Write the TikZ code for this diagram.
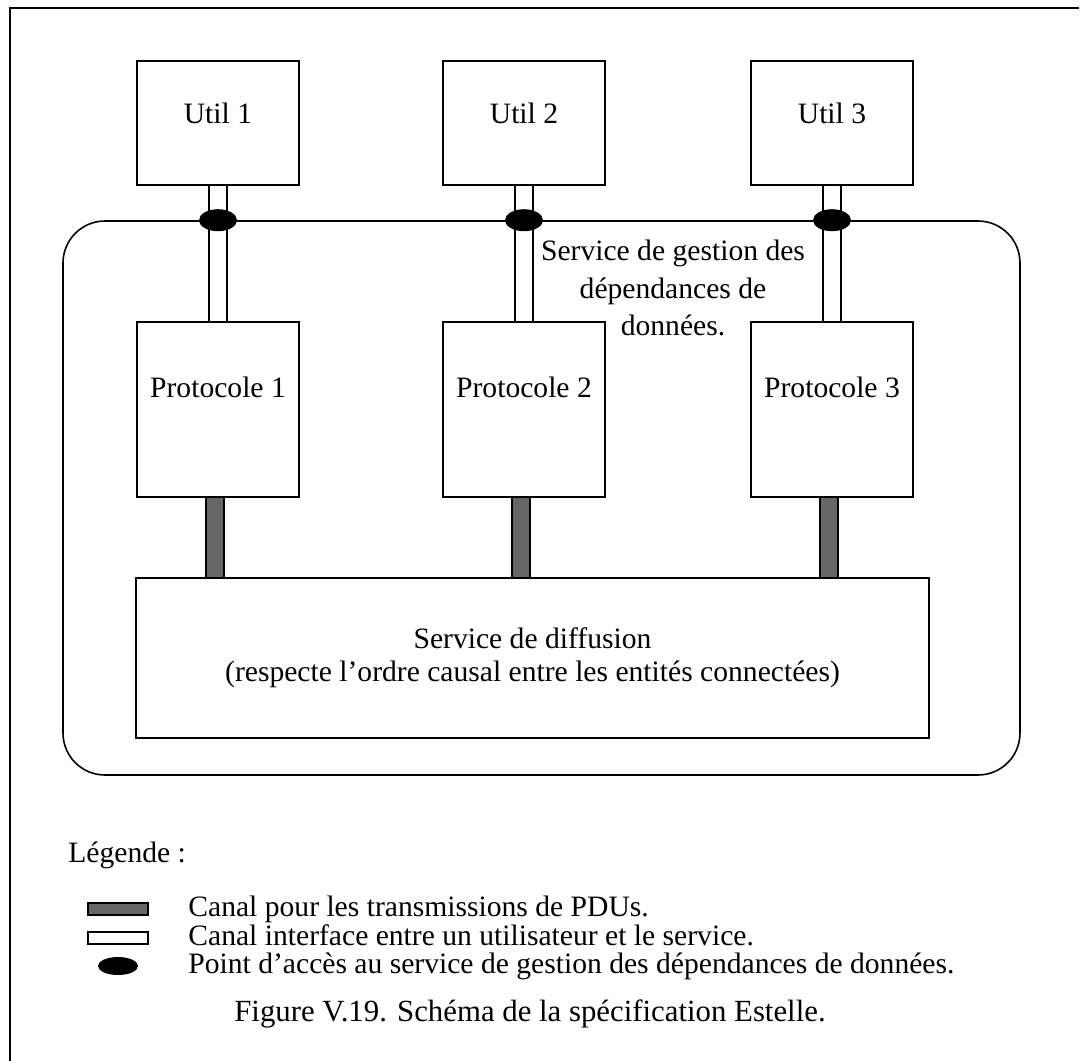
\documentclass[tikz,border=0pt]{standalone}
\usepackage{fontspec}
\setmainfont{Liberation Serif}
\usetikzlibrary{positioning,shapes.geometric}

\begin{document}
\begin{tikzpicture}[
        x=0.5pt, y=-0.5pt,
        font=\fontsize{14.8}{17}\selectfont,
        box/.style={rectangle, draw=black, line width=0.8pt, minimum width=81pt, align=center, inner sep=0pt},
        ubox/.style={box, minimum height=62pt, text height=10pt, text depth=10pt},
        pbox/.style={box, minimum height=87.5pt, text height=10pt, text depth=22pt},
        iface/.style={line width=1.2pt, double=white, double distance=7.6pt},
        pdu/.style={line width=0.8pt, double=black!60, double distance=8.4pt},
        sap/.style={ellipse, fill=black, minimum width=19pt, minimum height=11pt, inner sep=0pt},
        key/.style={rectangle, draw=black, minimum width=30pt, minimum height=6pt, inner sep=0pt},
        keytxt/.style={anchor=west, inner sep=0pt, text height=10pt, text depth=3pt},
    ]
    \useasboundingbox (0,0) rectangle (1083,1061);
    \draw[line width=0.8pt] (1079,8) -- (10,8) -- (10,1061);

    % service de gestion des dependances
    \node[draw, line width=0.8pt, rounded corners=21pt, minimum width=478.5pt, minimum height=277pt] (svc) at (541.5,498) {};
    \node[align=center, font=\fontsize{14.8}{18.75}\selectfont] (svclbl) at (673,288) {Service de gestion des\\dépendances de\\données.};

    \node[ubox] (u1) at (218,123) {Util 1};
    \node[ubox] (u2) at (524,123) {Util 2};
    \node[ubox] (u3) at (832,123) {Util 3};
    \node[pbox] (p1) at (218,409.5) {Protocole 1};
    \node[pbox] (p2) at (524,409.5) {Protocole 2};
    \node[pbox] (p3) at (832,409.5) {Protocole 3};
    \node[box, minimum width=396.5pt, minimum height=80pt, font=\fontsize{14.8}{16.5}\selectfont] (diff) at (532.5,658)
        {Service de diffusion\\(respecte l’ordre causal entre les entités connectées)};

    \foreach \i in {1,2,3} {
        \draw[iface] (u\i) -- (p\i);
        \draw[pdu] ([xshift=-1.5pt]p\i.south) -- ([xshift=-1.5pt]p\i.south |- diff.north);
        \node[sap] (ap\i) at (u\i |- svc.north) {};
    }

    % legende
    \node[keytxt] (leg) at (68,855) {Légende :};
    \node[key, line width=0.6pt, fill=black!60] (k1) at (118,909) {};
    \node[key, line width=1pt, fill=white] (k2) at (118,938) {};
    \node[sap, minimum width=20pt, minimum height=9pt] (k3) at (118,966) {};
    \node[keytxt] (k1txt) at (188,909) {Canal pour les transmissions de PDUs.};
    \node[keytxt] (k2txt) at (188,938) {Canal interface entre un utilisateur et le service.};
    \node[keytxt] (k3txt) at (188,966) {Point d’accès au service de gestion des dépendances de données.};
    \node[font=\fontsize{15.4}{17}\selectfont] (cap) at (530,1014) {Figure V.19. Schéma de la spécification Estelle.};
\end{tikzpicture}
\end{document}
